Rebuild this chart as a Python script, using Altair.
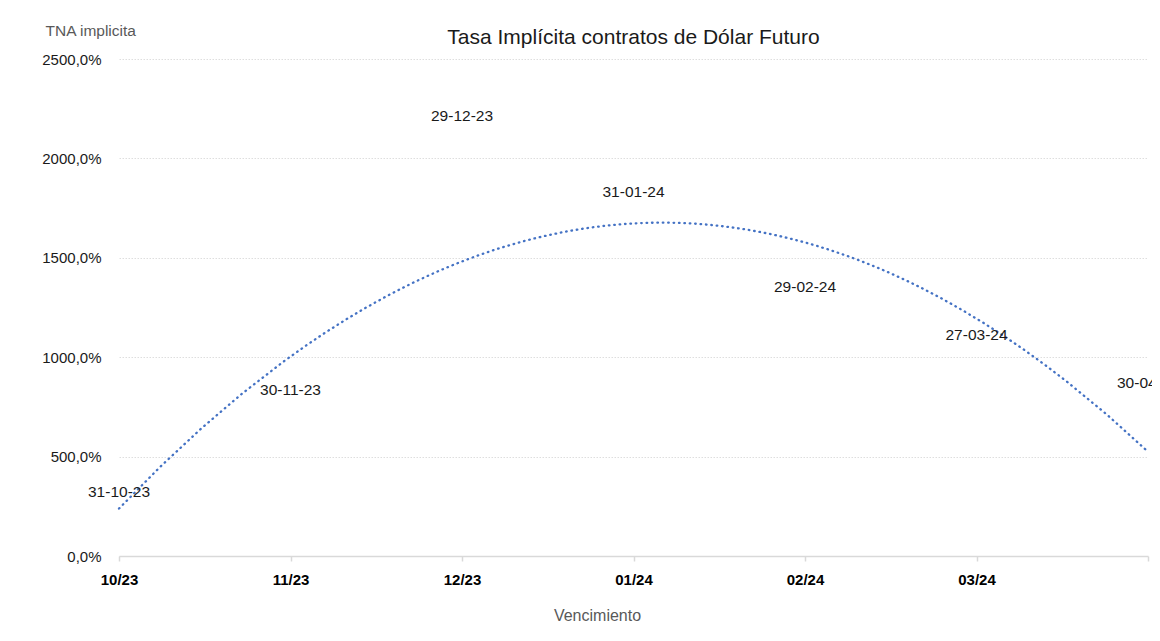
import altair as alt
import pandas as pd

# Data
vencimientos = ["31-10-23", "30-11-23", "29-12-23", "31-01-24", "29-02-24", "27-03-24", "30-04-24"]
mes_idx = [0, 1, 2, 3, 4, 5, 6]
tna = [202, 715, 2094, 1709, 1231, 992, 750]
tick_labels = ["10/23", "11/23", "12/23", "01/24", "02/24", "03/24", ""]
y_ticks = [0, 500, 1000, 1500, 2000, 2500]
titulo = ["Tasa Implícita contratos de Dólar Futuro"]

FONT = "Liberation Sans"
TEXT = "#1a1a1a"
GREY = "#595959"

df = pd.DataFrame({"mes": mes_idx, "tna": tna, "venc": vencimientos})

label_js = "[" + ",".join("'" + t + "'" for t in tick_labels) + "][datum.value]"

x_enc = alt.X(
    "mes:Q",
    scale=alt.Scale(domain=[0, 6], nice=False, zero=False),
    axis=alt.Axis(
        values=mes_idx,
        labelExpr=label_js,
        title="Vencimiento",
        titleFont=FONT, titleFontSize=16, titleFontWeight="normal", titleColor=GREY,
        titleX=478, titleY=59, titleAlign="center", titleBaseline="middle", titleAnchor="start",
        labelFont=FONT, labelFontSize=15, labelFontWeight="bold", labelColor="#000000",
        labelBaseline="middle", labelPadding=18, labelFlush=False, labelOverlap=False,
        domainColor="#d9d9d9", domainWidth=1.5,
        tickColor="#d9d9d9", tickWidth=1.5, tickSize=5,
        grid=False,
    ),
)

y_enc = alt.Y(
    "tna:Q",
    scale=alt.Scale(domain=[0, 2500], nice=False),
    axis=alt.Axis(
        values=y_ticks,
        labelExpr="replace(format(datum.value, '.1f'), '.', ',') + '%'",
        title="TNA implicita",
        titleFont=FONT, titleFontSize=15.5, titleFontWeight="normal", titleColor=GREY,
        titleAngle=0, titleX=-74, titleY=-28.5, titleAlign="left", titleBaseline="middle",
        titleAnchor="start",
        labelFont=FONT, labelFontSize=15, labelColor=TEXT, labelBaseline="middle",
        labelPadding=18, labelFlush=False,
        domain=False, ticks=False,
        grid=True, gridColor="#dedede", gridDash=[1.5, 1.5], gridWidth=1,
    ),
)

base = alt.Chart(df)

trend = base.transform_regression(
    "mes", "tna", method="poly", order=2, extent=[0, 6]
).mark_line(
    color="#4472C4", strokeWidth=2.3, strokeDash=[0.6, 4.8], strokeCap="round"
).encode(x=x_enc, y=y_enc)

labels = base.mark_text(
    font=FONT, fontSize=15.5, color=TEXT, baseline="middle", align="center", dy=-24
).encode(x=x_enc, y=y_enc, text="venc:N")

title = alt.Chart(pd.DataFrame({"t": titulo})).mark_text(
    font=FONT, fontSize=21, color=TEXT, baseline="middle", align="center"
).encode(x=alt.value(514.5), y=alt.value(-21), text="t:N")

chart = alt.layer(trend, labels, title).properties(
    width=1029,
    height=497,
    padding={"left": 111, "top": 51, "right": 4, "bottom": 66},
    autosize=alt.AutoSizeParams(type="none"),
    background="white",
).configure_view(stroke=None)

chart.save("out.html", embed_options={"renderer": "svg", "actions": False})
